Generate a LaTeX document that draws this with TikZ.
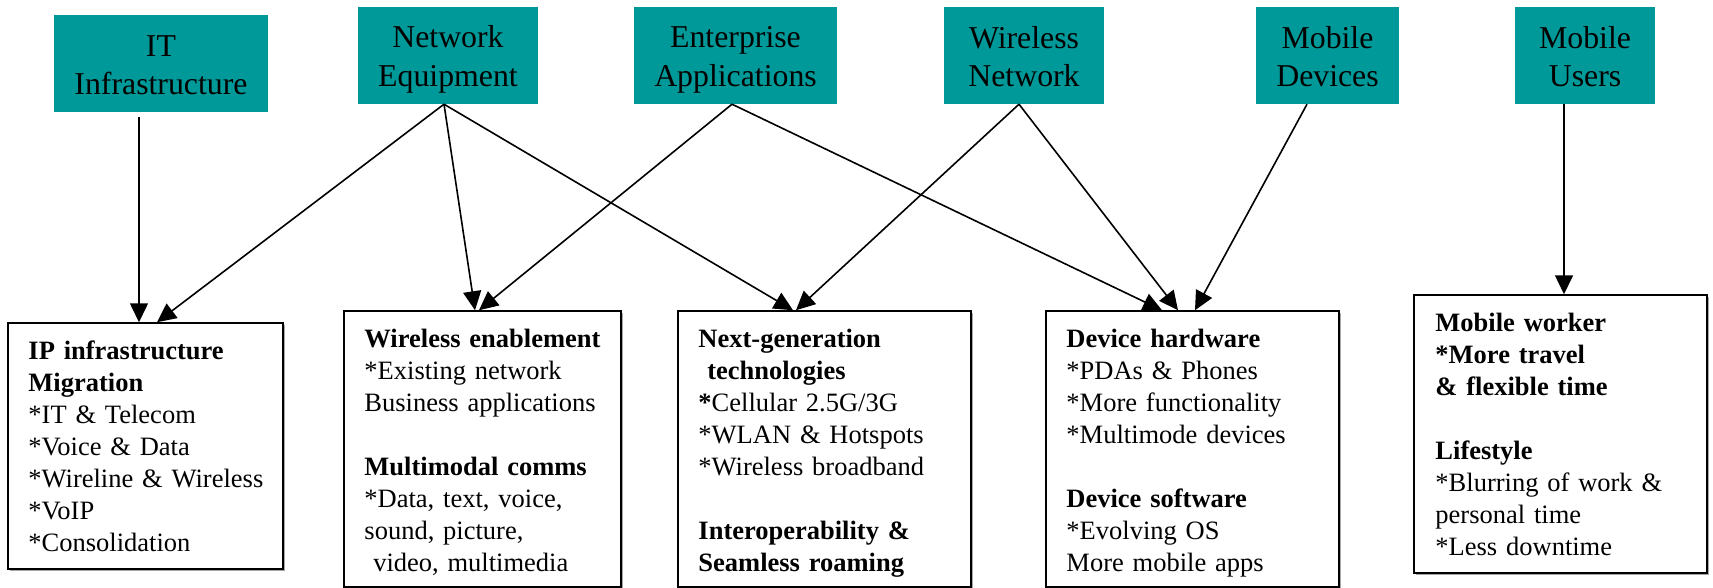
\documentclass[tikz,border=0pt]{standalone}
\usepackage{fontspec}
\setmainfont{Liberation Serif}
\usetikzlibrary{arrows.meta,shadows}
\definecolor{hdrteal}{RGB}{0,153,153}
% strut that gives every header line the same height and depth
\newcommand\hdrstrut{\rule[-5pt]{0pt}{34.5pt}}
\begin{document}
\begin{tikzpicture}[x=1pt,y=-1pt,
  hdr/.style={fill=hdrteal, inner sep=0pt, align=center, minimum height=97pt,
    font=\fontsize{31.8}{38.5}\selectfont},
  infobox/.style={draw=black, line width=1.5pt, fill=white, inner sep=0pt,
    general shadow={fill=gray!70, shadow xshift=2pt, shadow yshift=-2pt}},
  infotext/.style={anchor=base west, text width=275pt, align=left, inner sep=0pt,
    font=\fontsize{26.5}{32}\selectfont},
  link/.style={-{Triangle[length=19pt,width=18pt]}, line width=1.6pt}]
\useasboundingbox (0,0) rectangle (1713,588);

% drivers
\node[hdr, minimum width=214pt] (it)  at (161,63.5)   {\hdrstrut IT\\\hdrstrut Infrastructure};
\node[hdr, minimum width=180pt] (neq) at (448,55.5)   {\hdrstrut Network\\\hdrstrut Equipment};
\node[hdr, minimum width=203pt] (ent) at (735.5,55.5) {\hdrstrut Enterprise\\\hdrstrut Applications};
\node[hdr, minimum width=160pt] (wln) at (1024,55.5)  {\hdrstrut Wireless\\\hdrstrut Network};
\node[hdr, minimum width=143pt] (mdv) at (1327.5,55.5){\hdrstrut Mobile\\\hdrstrut Devices};
\node[hdr, minimum width=140pt] (mus) at (1585,55.5)  {\hdrstrut Mobile\\\hdrstrut Users};

% outcome boxes
\node[infobox, minimum width=275pt, minimum height=246pt] (ip)  at (145.5,446) {};
\node[infobox, minimum width=277pt, minimum height=276pt] (wen) at (482.5,449) {};
\node[infobox, minimum width=293pt, minimum height=276pt] (ngt) at (824.5,449) {};
\node[infobox, minimum width=293pt, minimum height=276pt] (dev) at (1192.5,449) {};
\node[infobox, minimum width=293pt, minimum height=278pt] (mwk) at (1560.5,434) {};

\node[infotext] (ip-t) at ([xshift=21pt,yshift=-37pt]ip.north west)
  {\textbf{IP infrastructure}\\ \textbf{Migration}\\ {*}IT \& Telecom\\ {*}Voice \& Data\\
   {*}Wireline \& Wireless\\ {*}VoIP\\ {*}Consolidation};
\node[infotext] (wen-t) at ([xshift=21pt,yshift=-37pt]wen.north west)
  {\textbf{Wireless enablement}\\ {*}Existing network\\ Business applications\\[32pt]
   \textbf{Multimodal comms}\\ {*}Data, text, voice,\\ sound, picture,\\ \ video, multimedia};
\node[infotext] (ngt-t) at ([xshift=21pt,yshift=-37pt]ngt.north west)
  {\textbf{Next-generation}\\ \textbf{\ technologies}\\ \textbf{*}Cellular 2.5G/3G\\
   {*}WLAN \& Hotspots\\ {*}Wireless broadband\\[32pt]
   \textbf{Interoperability \&}\\ \textbf{Seamless roaming}};
\node[infotext] (dev-t) at ([xshift=21pt,yshift=-37pt]dev.north west)
  {\textbf{Device hardware}\\ {*}PDAs \& Phones\\ {*}More functionality\\ {*}Multimode devices\\[32pt]
   \textbf{Device software}\\ {*}Evolving OS\\ More mobile apps};
\node[infotext] (mwk-t) at ([xshift=22pt,yshift=-37pt]mwk.north west)
  {\textbf{Mobile worker}\\ \textbf{*More travel}\\ \textbf{\& flexible time}\\[32pt]
   \textbf{Lifestyle}\\ {*}Blurring of work \&\\ personal time\\ {*}Less downtime};

% influences
\draw[link] ([xshift=-22pt,yshift=-5pt]it.south) -- ([xshift=-6.5pt]ip.north);
\draw[link] ([xshift=-4pt]neq.south) -- ([xshift=11.5pt]ip.north);
\draw[link] ([xshift=-4pt]neq.south) -- ([xshift=-7.5pt]wen.north);
\draw[link] ([xshift=-4pt]neq.south) -- ([xshift=-31.5pt]ngt.north);
\draw[link] ([xshift=-3.5pt]ent.south) -- ([xshift=-3.5pt]wen.north);
\draw[link] ([xshift=-3.5pt]ent.south) -- ([xshift=-30.5pt]dev.north);
\draw[link] ([xshift=-5pt]wln.south) -- ([xshift=-28.5pt]ngt.north);
\draw[link] ([xshift=-5pt]wln.south) -- ([xshift=-14.5pt]dev.north);
\draw[link] ([xshift=-20.5pt]mdv.south) -- ([xshift=2.5pt]dev.north);
\draw[link] ([xshift=-21pt]mus.south) -- ([xshift=3.5pt]mwk.north);
\end{tikzpicture}
\end{document}
